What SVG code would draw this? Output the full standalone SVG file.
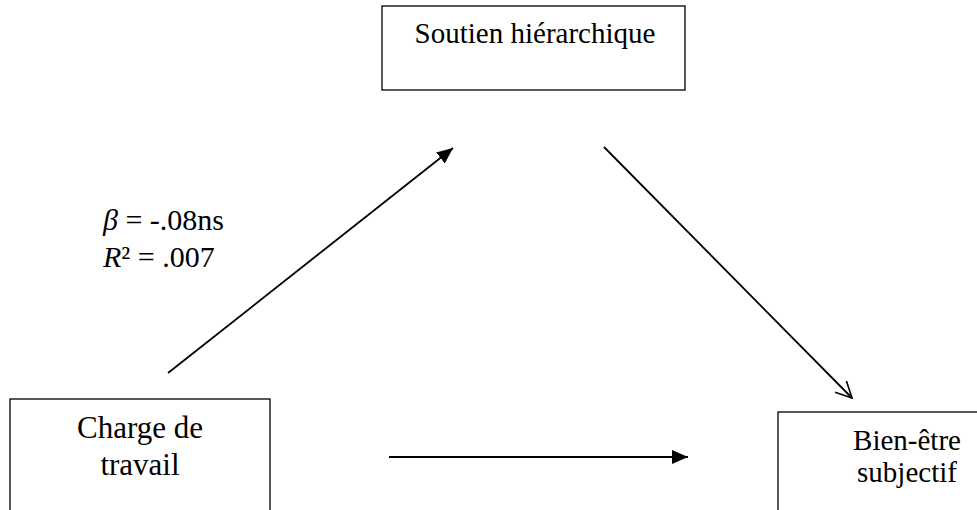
<svg xmlns="http://www.w3.org/2000/svg" width="977" height="510" viewBox="0 0 977 510">
<style>
.box{fill:#fff;stroke:#000;stroke-width:1.3}
.t{font-family:"Liberation Serif","Times New Roman",serif;fill:#000}
.c{stroke:#000;stroke-width:1.8;fill:none}
</style>
<defs>
<marker id="fa" markerUnits="userSpaceOnUse" markerWidth="20" markerHeight="16" refX="16" refY="7" orient="auto">
<path d="M0,0 L16,7 L0,14 Z" fill="#000"/>
</marker>
<marker id="oa" markerUnits="userSpaceOnUse" markerWidth="20" markerHeight="20" refX="17" refY="9" orient="auto">
<path d="M1,1 L17,9 L1,17" fill="none" stroke="#000" stroke-width="1.6"/>
</marker>
</defs>
<rect width="977" height="510" fill="#fff"/>
<g id="soutien">
<rect class="box" x="382" y="6" width="303" height="84"/>
<text class="t" x="535" y="43" font-size="29" text-anchor="middle">Soutien hiérarchique</text>
</g>
<g id="charge">
<rect class="box" x="10" y="399" width="260" height="120"/>
<text class="t" x="140" y="438" font-size="31" text-anchor="middle">Charge de</text>
<text class="t" x="140" y="475" font-size="31" text-anchor="middle">travail</text>
</g>
<g id="bienetre">
<rect class="box" x="778" y="412" width="210" height="110"/>
<text class="t" x="907" y="450" font-size="29" text-anchor="middle">Bien-être</text>
<text class="t" x="907" y="482" font-size="29" text-anchor="middle">subjectif</text>
</g>
<g id="label">
<text class="t" x="103" y="230" font-size="30"><tspan font-style="italic">β</tspan> = -.08ns</text>
<text class="t" x="103" y="267" font-size="30"><tspan font-style="italic">R</tspan>² = .007</text>
</g>
<g id="connectors">
<line class="c" x1="168" y1="373" x2="453" y2="148" marker-end="url(#fa)"/>
<line class="c" x1="604" y1="147" x2="852" y2="398" marker-end="url(#oa)"/>
<line class="c" x1="389" y1="457" x2="688" y2="457" marker-end="url(#fa)"/>
</g>
</svg>
